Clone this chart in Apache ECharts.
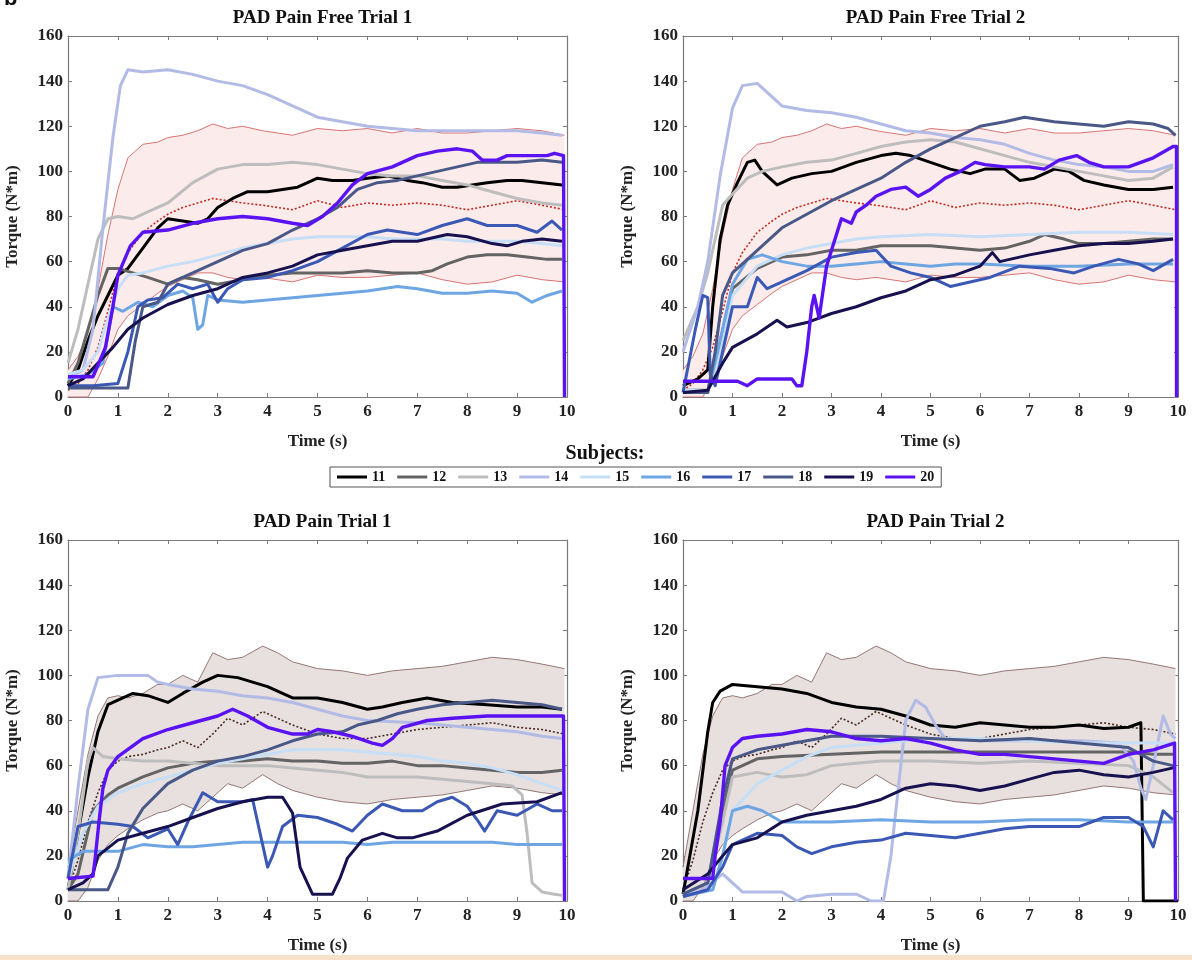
<!DOCTYPE html>
<html><head><meta charset="utf-8">
<script src="https://cdn.jsdelivr.net/npm/echarts@6/dist/echarts.min.js"></script>
<style>html,body{margin:0;padding:0;background:#fff}#c{width:1192px;height:960px}</style>
</head><body><div id="c"></div>
<script>
// ---------- labels ----------
const TITLES = ['PAD Pain Free Trial 1','PAD Pain Free Trial 2','PAD Pain Trial 1','PAD Pain Trial 2'];
const SUBJECTS = ['11','12','13','14','15','16','17','18','19','20'];
const X_NAME = 'Time (s)';
const Y_NAME = 'Torque (N*m)';
const LEGEND_TITLE = 'Subjects:';

// ---------- reference band (mean ± SD) ----------
const BAND_T   = [0,0.2,0.4,0.6,0.8,1.0,1.2,1.5,1.8,2.0,2.3,2.6,2.9,3.2,3.5,3.9,4.2,4.5,5,5.5,6,6.5,7,7.5,8,8.5,9,9.5,9.95];
const pfUpper  = [12,18,28,48,72,92,106,112,113,115,116,118,121,119,120,118,117,116,119,118,119,117,119,117,117,118,119,118,116];
const pfMean   = [3,6,12,22,38,55,64,73,78,81,84,86,88,87,86,85,84,83,87,84,86,85,86,85,83,85,87,85,83];
const pfLower  = [0,0,0,8,18,30,36,41,46,49,52,55,55,53,52,53,52,51,54,53,53,54,55,52,50,51,54,52,51];
const ppUpper  = [15,40,65,82,90,91,90,92,96,96,100,97,110,107,108,113,110,106,103,102,100,102,103,104,106,108,107,105,103];
const ppMean   = [5,18,35,48,58,62,64,65,67,68,71,68,74,81,78,84,81,78,74,72,72,74,76,77,78,79,77,76,74];
const ppLower  = [0,0,6,18,25,29,32,36,39,40,43,40,46,52,50,56,52,49,46,44,43,45,46,47,49,51,50,48,47];

// ---------- PAD Pain Free Trial 1 ----------
const pf1_s11 = [[0,5],[0.2,12],[0.4,25],[0.6,36],[0.8,45],[1,54],[1.2,57],[1.5,66],[1.8,75],[2,79],[2.3,78],[2.6,77],[2.8,79],[3,84],[3.3,88],[3.6,91],[4,91],[4.3,92],[4.6,93],[5,97],[5.3,96],[5.7,96],[6,97],[6.4,98],[6.8,96],[7.1,95],[7.5,93],[7.8,93],[8.1,94],[8.4,95],[8.8,96],[9.1,96],[9.5,95],[9.9,94]];
const pf1_s12 = [[0,6],[0.2,15],[0.4,30],[0.6,45],[0.8,57],[1,57],[1.3,55],[1.6,53],[2,50],[2.3,53],[2.6,52],[3,50],[3.5,52],[4,54],[4.5,55],[5,55],[5.5,55],[6,56],[6.5,55],[7,55],[7.3,56],[7.6,59],[8,62],[8.4,63],[8.8,63],[9.2,62],[9.6,61],[9.9,61]];
const pf1_s13 = [[0,15],[0.2,30],[0.4,50],[0.6,70],[0.8,79],[1,80],[1.3,79],[1.6,82],[2,86],[2.5,95],[3,101],[3.5,103],[4,103],[4.5,104],[5,103],[5.5,101],[6,99],[6.5,98],[7,98],[7.5,96],[8,94],[8.5,91],[9,88],[9.5,86],[9.9,85]];
const pf1_s14 = [[0,8],[0.3,12],[0.5,30],[0.7,75],[0.9,115],[1.05,138],[1.2,145],[1.5,144],[2,145],[2.5,143],[3,140],[3.5,138],[4,134],[4.5,129],[5,124],[5.5,122],[6,120],[6.5,119],[7,118],[7.5,118],[8,118],[8.5,118],[9,118],[9.5,117],[9.9,116]];
const pf1_s15 = [[0,10],[0.3,12],[0.6,20],[0.8,35],[1,48],[1.2,54],[1.5,55],[2,58],[2.5,60],[3,63],[3.5,66],[4,68],[4.5,70],[5,71],[5.5,71],[6,71],[6.5,70],[7,70],[7.5,70],[8,69],[8.5,69],[9,69],[9.5,68],[9.9,67]];
const pf1_s16 = [[0,8],[0.4,10],[0.7,15],[0.9,40],[1.1,38],[1.4,42],[1.7,40],[2,45],[2.3,47],[2.5,44],[2.6,30],[2.7,32],[2.8,45],[3,43],[3.5,42],[4,43],[4.5,44],[5,45],[5.5,46],[6,47],[6.6,49],[7,48],[7.5,46],[8,46],[8.5,47],[9,46],[9.3,42],[9.6,45],[9.9,47]];
const pf1_s17 = [[0,5],[0.5,5],[1,6],[1.2,20],[1.4,40],[1.6,43],[1.9,44],[2.2,50],[2.5,48],[2.8,50],[3,42],[3.2,48],[3.5,52],[4,53],[4.5,56],[5,60],[5.5,66],[6,72],[6.4,74],[7,72],[7.5,76],[8,79],[8.4,76],[9,76],[9.4,73],[9.7,78],[9.9,74]];
const pf1_s18 = [[0,4],[0.5,4],[1,4],[1.2,4],[1.35,25],[1.5,40],[1.8,42],[2,50],[2.5,55],[3,60],[3.5,65],[4,68],[4.5,74],[5,79],[5.4,84],[5.8,92],[6.2,95],[6.6,96],[7,98],[7.4,100],[7.8,102],[8.2,104],[8.6,104],[9,104],[9.5,105],[9.9,104]];
const pf1_s19 = [[0,5],[0.3,8],[0.6,15],[0.9,22],[1.2,30],[1.5,35],[2,41],[2.5,45],[3,48],[3.5,53],[4,55],[4.5,58],[5,63],[5.5,65],[6,67],[6.5,69],[7,69],[7.6,72],[8,71],[8.5,68],[8.8,67],[9.1,69],[9.5,70],[9.9,69]];
const pf1_s20 = [[0,9],[0.2,9],[0.5,9],[0.6,14],[0.75,22],[0.9,40],[1,54],[1.25,67],[1.5,73],[2,74],[2.5,77],[3,79],[3.5,80],[4,79],[4.5,77],[4.8,76],[5.1,80],[5.4,86],[5.7,94],[6,99],[6.5,102],[7,107],[7.4,109],[7.8,110],[8.1,109],[8.3,105],[8.6,105],[8.8,107],[9.2,107],[9.6,107],[9.75,108],[9.93,107],[9.95,0]];

// ---------- PAD Pain Free Trial 2 ----------
const pf2_s11 = [[0,5],[0.3,8],[0.5,12],[0.6,40],[0.75,70],[0.9,85],[1.1,95],[1.3,104],[1.45,105],[1.6,100],[1.9,94],[2.2,97],[2.6,99],[3,100],[3.5,104],[4,107],[4.3,108],[4.6,107],[5,104],[5.4,101],[5.8,99],[6.1,101],[6.5,101],[6.8,96],[7.1,97],[7.5,101],[7.8,100],[8.1,96],[8.5,94],[9,92],[9.5,92],[9.9,93]];
const pf2_s12 = [[0,3],[0.5,3],[0.7,20],[1,48],[1.5,57],[2,62],[2.5,63],[3,65],[3.5,65],[4,67],[4.5,67],[5,67],[5.5,66],[6,65],[6.5,66],[7,69],[7.3,72],[7.7,70],[8,68],[8.5,68],[9,69],[9.5,70],[9.9,70]];
const pf2_s13 = [[0,25],[0.3,40],[0.5,55],[0.8,85],[1,90],[1.3,97],[1.6,100],[2,102],[2.5,104],[3,105],[3.5,108],[4,111],[4.5,113],[5,114],[5.5,113],[6,110],[6.5,107],[7,104],[7.5,102],[8,100],[8.5,98],[9,96],[9.5,97],[9.9,102]];
const pf2_s14 = [[0,20],[0.3,40],[0.5,60],[0.75,98],[1,128],[1.2,138],[1.5,139],[1.7,135],[2,129],[2.5,127],[3,126],[3.5,124],[4,121],[4.5,118],[5,117],[5.5,115],[6,114],[6.5,112],[7,108],[7.5,105],[8,103],[8.5,102],[9,100],[9.5,100],[9.9,103]];
const pf2_s15 = [[0,3],[0.5,3],[0.7,15],[1,45],[1.5,58],[2,63],[2.5,66],[3,68],[3.5,70],[4,71],[5,72],[6,71],[7,72],[8,73],[9,73],[9.9,72]];
const pf2_s16 = [[0,2],[0.5,2],[0.7,20],[1,50],[1.3,61],[1.6,63],[2,60],[2.5,58],[3,58],[3.5,59],[4,60],[4.5,59],[5,58],[5.5,59],[6,59],[7,58],[8,58],[9,59],[9.9,59]];
const pf2_s17 = [[0,2],[0.25,30],[0.4,45],[0.5,44],[0.55,10],[0.65,5],[0.8,20],[1,40],[1.3,40],[1.5,53],[1.7,48],[2,51],[2.5,56],[3,62],[3.5,64],[3.9,65],[4.2,58],[4.6,55],[5,53],[5.4,49],[5.8,51],[6.2,53],[6.8,58],[7.4,57],[7.9,55],[8.3,58],[8.8,61],[9.2,59],[9.5,56],[9.9,61]];
const pf2_s18 = [[0,2],[0.5,2],[0.65,20],[0.8,45],[1,55],[1.5,65],[2,75],[2.5,81],[3,87],[3.5,92],[4,97],[4.5,104],[5,110],[5.5,115],[6,120],[6.5,122],[6.9,124],[7.5,122],[8,121],[8.5,120],[9,122],[9.5,121],[9.8,119],[9.95,116]];
const pf2_s19 = [[0,2],[0.5,3],[0.8,15],[1,22],[1.5,28],[1.9,34],[2.1,31],[2.5,33],[3,37],[3.5,40],[4,44],[4.5,47],[5,52],[5.5,54],[6,58],[6.25,64],[6.4,60],[7,63],[7.5,65],[8,67],[8.5,68],[9,68],[9.5,69],[9.9,70]];
const pf2_s20 = [[0,7],[0.5,7],[1.1,7],[1.3,5],[1.5,8],[2.2,8],[2.3,5],[2.4,5],[2.5,20],[2.6,40],[2.65,45],[2.75,35],[2.9,58],[3,65],[3.2,79],[3.4,77],[3.5,82],[3.7,85],[3.9,89],[4.2,92],[4.5,93],[4.75,89],[5,92],[5.3,97],[5.6,100],[5.9,104],[6.1,103],[6.5,102],[7,102],[7.3,101],[7.6,105],[7.95,107],[8.2,104],[8.5,102],[9,102],[9.5,106],[9.9,111],[9.97,111],[9.97,0]];

// ---------- PAD Pain Trial 1 ----------
const pp1_s11 = [[0,5],[0.2,30],[0.4,55],[0.6,75],[0.8,87],[1,89],[1.3,92],[1.6,91],[2,88],[2.3,92],[2.7,97],[3,100],[3.4,99],[4,95],[4.5,90],[5,90],[5.5,88],[6,85],[6.3,86],[6.7,88],[7.2,90],[7.7,88],[8.4,87],[9,86],[9.5,86],[9.9,85]];
const pp1_s12 = [[0,5],[0.2,12],[0.5,40],[0.8,47],[1,50],[1.5,55],[2,59],[2.5,61],[3,62],[3.5,62],[4,63],[4.5,62],[5,62],[5.5,61],[6,61],[6.5,62],[7,60],[7.5,60],[8,59],[8.5,58],[9,57],[9.5,57],[9.9,58]];
const pp1_s13 = [[0,5],[0.2,30],[0.4,62],[0.5,68],[0.7,64],[1,63],[1.5,62],[2,62],[2.5,61],[3,60],[3.5,60],[4,60],[4.5,59],[5,58],[5.5,57],[6,55],[6.5,55],[7,55],[7.5,54],[8,53],[8.5,52],[8.9,51],[9.1,47],[9.2,30],[9.3,8],[9.5,4],[9.75,3],[9.9,2.5]];
const pp1_s14 = [[0,10],[0.2,50],[0.4,85],[0.6,99],[1,100],[1.6,100],[1.8,97],[2,96],[2.5,94],[3,93],[3.5,91],[4,90],[4.5,88],[5,85],[5.5,82],[6,80],[7,79],[8,77],[9,75],[9.5,73],[9.9,72]];
const pp1_s15 = [[0,10],[0.3,30],[0.6,42],[1,48],[1.5,52],[2,55],[2.5,58],[3,61],[3.5,63],[4,65],[4.5,67],[5,67],[5.5,67],[6,66],[6.5,65],[7,64],[7.5,62],[8,61],[8.5,59],[9,56],[9.5,52],[9.9,49]];
const pp1_s16 = [[0,18],[0.3,22],[0.6,22],[1,22],[1.5,25],[2,24],[2.5,24],[3,25],[3.5,26],[4,26],[4.5,26],[5,26],[5.5,26],[6,25],[6.5,26],[7,26],[7.5,26],[8,26],[8.5,26],[9,25],[9.5,25],[9.9,25]];
const pp1_s17 = [[0,10],[0.2,33],[0.5,35],[1,34],[1.3,33],[1.6,28],[2,32],[2.2,25],[2.4,35],[2.7,48],[3,44],[3.5,44],[3.7,45],[3.9,25],[4,15],[4.1,20],[4.3,33],[4.6,38],[5,37],[5.4,34],[5.7,31],[6,38],[6.3,43],[6.7,40],[7.1,40],[7.4,44],[7.7,46],[8,42],[8.2,36],[8.35,31],[8.6,40],[9,38],[9.4,43],[9.7,40],[9.9,40]];
const pp1_s18 = [[0,5],[0.5,5],[0.8,5],[1,15],[1.2,30],[1.5,41],[2,52],[2.5,58],[3,62],[3.5,64],[4,67],[4.5,71],[5,74],[5.5,75],[5.8,78],[6.2,80],[6.6,83],[7,85],[7.5,87],[8,88],[8.5,89],[9,88],[9.5,87],[9.9,85]];
const pp1_s19 = [[0,5],[0.3,8],[0.5,12],[0.6,20],[1,27],[1.5,30],[2,33],[2.5,37],[3,41],[3.5,44],[4,46],[4.3,46],[4.5,39],[4.65,15],[4.9,3],[5.3,3],[5.45,10],[5.6,19],[5.9,27],[6.3,30],[6.6,28],[6.9,28],[7.4,31],[8,38],[8.7,43],[9.4,44],[9.9,48]];
const pp1_s20 = [[0,10],[0.5,11],[0.55,20],[0.62,35],[0.7,50],[0.8,58],[1,64],[1.5,72],[2,76],[2.5,79],[3,82],[3.3,85],[3.6,82],[4,77],[4.5,74],[4.8,74],[5,76],[5.3,75],[5.7,73],[6.1,70],[6.3,69],[6.5,72],[6.7,77],[7.2,80],[7.7,81],[8.4,82],[9,82],[9.5,82],[9.93,82],[9.95,0]];

// ---------- PAD Pain Trial 2 ----------
const pp2_s11 = [[0,3],[0.3,40],[0.5,75],[0.6,88],[0.75,93],[1,96],[1.5,95],[2,94],[2.5,92],[3,88],[3.5,86],[4,85],[4.5,82],[5,78],[5.5,77],[6,79],[6.5,78],[7,77],[7.5,77],[8,78],[8.5,76.5],[9,77],[9.25,79],[9.3,0],[10,0]];
const pp2_s12 = [[0,3],[0.5,8],[0.8,40],[1,58],[1.5,63],[2,64],[3,65],[4,66],[5,66],[6,66],[7,66],[8,66],[9,66],[9.5,65],[9.9,65]];
const pp2_s13 = [[0,3],[0.5,8],[0.8,35],[1,55],[1.5,57],[2,55],[2.5,56],[3,60],[3.5,61],[4,62],[5,62],[6,61],[7,62],[8,61],[9,60],[9.5,55],[9.9,48]];
const pp2_s14 = [[0,2],[0.4,5],[0.8,12],[1.2,4],[1.5,4],[2,4],[2.3,0],[2.5,2],[3,3],[3.5,3],[3.8,0],[4.05,0],[4.2,20],[4.35,50],[4.5,80],[4.7,89],[4.9,86],[5.1,78],[5.3,72],[5.6,72],[6,71],[7,71],[8,71],[8.8,70],[9.1,62],[9.25,50],[9.35,45],[9.5,60],[9.7,82],[9.85,74],[9.95,72]];
const pp2_s15 = [[0,3],[0.6,5],[0.8,20],[1,40],[1.5,52],[2,58],[2.5,64],[3,68],[4,70],[5,72],[6,72],[7,71],[8,70],[9,70],[9.9,70]];
const pp2_s16 = [[0,2],[0.6,5],[0.8,20],[1,40],[1.3,42],[1.6,40],[2,35],[2.5,35],[3,35],[4,36],[5,35],[6,35],[7,36],[8,36],[9,35],[9.9,35]];
const pp2_s17 = [[0,2],[0.5,5],[0.8,15],[1,25],[1.5,30],[2,29],[2.3,24],[2.6,21],[3,24],[3.5,26],[4,27],[4.5,30],[5,29],[5.5,28],[6,30],[6.5,32],[7,33],[7.5,33],[8,33],[8.5,37],[9,37],[9.3,33],[9.5,24],[9.7,40],[9.9,36]];
const pp2_s18 = [[0,3],[0.5,8],[0.8,45],[1,63],[1.5,67],[2,69],[2.5,71],[3,73],[4,73],[5,72],[6,71],[7,72],[8,70],[9,68],[9.5,62],[9.9,60]];
const pp2_s19 = [[0,5],[0.5,12],[0.8,20],[1,25],[1.5,28],[2,35],[2.5,38],[3,40],[3.5,42],[4,45],[4.5,50],[5,52],[5.5,51],[6,49],[6.5,51],[7,54],[7.5,57],[8,58],[8.5,56],[9,55],[9.5,57],[9.9,59]];
const pp2_s20 = [[0,10],[0.6,10],[0.65,20],[0.75,35],[0.85,60],[1,68],[1.2,72],[1.5,73],[2,74],[2.5,76],[3,75],[3.5,72],[4,71],[4.5,72],[5,70],[5.5,67],[6,65],[6.5,65],[7,64],[7.5,63],[8,62],[8.5,61],[9,65],[9.5,67],[9.93,70],[9.95,0]];

// ---------- styling (not data) ----------
const COLORS = ['#000000','#646464','#bdbdbd','#b2bae6','#c6def6','#6ea6e3','#3a58b4','#4a5888','#17124f','#5a12f2'];
const WIDTHS = [3,3,3,3,3,3,3,3,3,3.4];
const FONT = '"Liberation Serif","DejaVu Serif",serif';

const PANELS = [
  {subs:[pf1_s11,pf1_s12,pf1_s13,pf1_s14,pf1_s15,pf1_s16,pf1_s17,pf1_s18,pf1_s19,pf1_s20], up:pfUpper, mean:pfMean, lo:pfLower, fill:'#fbeceb', band:'#d46464', meanCol:'#c42a22'},
  {subs:[pf2_s11,pf2_s12,pf2_s13,pf2_s14,pf2_s15,pf2_s16,pf2_s17,pf2_s18,pf2_s19,pf2_s20], up:pfUpper, mean:pfMean, lo:pfLower, fill:'#fbeceb', band:'#d46464', meanCol:'#c42a22'},
  {subs:[pp1_s11,pp1_s12,pp1_s13,pp1_s14,pp1_s15,pp1_s16,pp1_s17,pp1_s18,pp1_s19,pp1_s20], up:ppUpper, mean:ppMean, lo:ppLower, fill:'#e7e0df', band:'#8a6a66', meanCol:'#4a2a22'},
  {subs:[pp2_s11,pp2_s12,pp2_s13,pp2_s14,pp2_s15,pp2_s16,pp2_s17,pp2_s18,pp2_s19,pp2_s20], up:ppUpper, mean:ppMean, lo:ppLower, fill:'#e7e0df', band:'#8a6a66', meanCol:'#4a2a22'}
];
const GRIDS = [
  {left:68, top:36, width:499, height:361},
  {left:683, top:36, width:495, height:361},
  {left:68, top:540, width:499, height:361},
  {left:683, top:540, width:495, height:361}
];

const chart = echarts.init(document.getElementById('c'), null, {renderer:'canvas'});
const grid=[], xAxis=[], yAxis=[], series=[], title=[];
const axisColor = '#7a7a7a';
GRIDS.forEach((g,i)=>{
  grid.push(Object.assign({containLabel:false}, g));
  const base = {type:'value', gridIndex:i, min:0, splitLine:{show:false},
    axisLine:{show:true, onZero:false, lineStyle:{color:axisColor, width:1.2}},
    axisTick:{show:true, inside:true, length:4, lineStyle:{color:axisColor}}};
  xAxis.push(Object.assign({}, base, {max:10, interval:1, position:'bottom',
    name:X_NAME, nameLocation:'middle', nameGap:36,
    nameTextStyle:{fontFamily:FONT, fontWeight:'bold', fontSize:17, color:'#222'},
    axisLabel:{fontFamily:FONT, fontWeight:'bold', fontSize:17, color:'#222', margin:6}}));
  xAxis.push(Object.assign({}, base, {max:10, interval:1, position:'top', axisLabel:{show:false}}));
  yAxis.push(Object.assign({}, base, {max:160, interval:20, position:'left',
    name:Y_NAME, nameLocation:'middle', nameGap:47,
    nameTextStyle:{fontFamily:FONT, fontWeight:'bold', fontSize:17, color:'#222'},
    axisLabel:{fontFamily:FONT, fontWeight:'bold', fontSize:17, color:'#222', margin:5}}));
  yAxis.push(Object.assign({}, base, {max:160, interval:20, position:'right', axisLabel:{show:false}}));
  title.push({text:TITLES[i], left:g.left+g.width/2, top:g.top-32, textAlign:'center',
    textStyle:{fontFamily:FONT, fontWeight:'bold', fontSize:19, color:'#111'}});

  const P = PANELS[i];
  const xi = i*2, yi = i*2;
  const common = {type:'line', xAxisIndex:xi, yAxisIndex:yi, showSymbol:false, symbol:'none', animation:false, silent:true};
  // SD band as a polygon between upper and lower, placed through the axes' scales
  series.push({type:'custom', name:'band-'+i, coordinateSystem:'cartesian2d', xAxisIndex:xi, yAxisIndex:yi,
    z:1, silent:true, animation:false, clip:true, data:[[0,0]],
    renderItem:(params, api)=>{
      const pts=[];
      for(let k=0;k<BAND_T.length;k++) pts.push(api.coord([BAND_T[k], P.up[k]]));
      for(let k=BAND_T.length-1;k>=0;k--) pts.push(api.coord([BAND_T[k], P.lo[k]]));
      return {type:'polygon', shape:{points:pts}, style:{fill:P.fill, stroke:null}};
    }});
  series.push(Object.assign({}, common, {name:'upper-'+i, z:2,
    data:BAND_T.map((t,k)=>[t,P.up[k]]), lineStyle:{color:P.band, width:0.9}}));
  series.push(Object.assign({}, common, {name:'lower-'+i, z:2,
    data:BAND_T.map((t,k)=>[t,P.lo[k]]), lineStyle:{color:P.band, width:0.9}}));
  series.push(Object.assign({}, common, {name:'mean-'+i, z:3,
    data:BAND_T.map((t,k)=>[t,P.mean[k]]), lineStyle:{color:P.meanCol, width:1.6, type:[2,2]}}));
  P.subs.forEach((d,s)=>{
    series.push(Object.assign({}, common, {name:SUBJECTS[s], z:4+s, data:d,
      itemStyle:{color:COLORS[s]},
      lineStyle:{color:COLORS[s], width:WIDTHS[s], join:'round'}}));
  });
});
title.push({text:LEGEND_TITLE, left:600, top:439, textAlign:'center',
  textStyle:{fontFamily:FONT, fontWeight:'bold', fontSize:20, color:'#111'}});

chart.setOption({
  backgroundColor:'#ffffff',
  animation:false,
  title, grid, xAxis, yAxis, series,
  legend:{data:SUBJECTS, left:330, top:467, orient:'horizontal', icon:'rect',
    itemWidth:30, itemHeight:3, itemGap:12, padding:[3,7,3,7],
    borderColor:'#555', borderWidth:1, backgroundColor:'#fff', selectedMode:false,
    textStyle:{fontFamily:FONT, fontWeight:'bold', fontSize:14, color:'#111'}},
  graphic:[
    {type:'text', left:4, top:-12, style:{text:'b', fontFamily:'"Liberation Sans",Arial,sans-serif', fontWeight:'bold', fontSize:22, fill:'#111'}},
    {type:'rect', left:0, top:955, shape:{width:1192, height:5}, style:{fill:'#f6e2c8'}}
  ]
});
</script></body></html>
